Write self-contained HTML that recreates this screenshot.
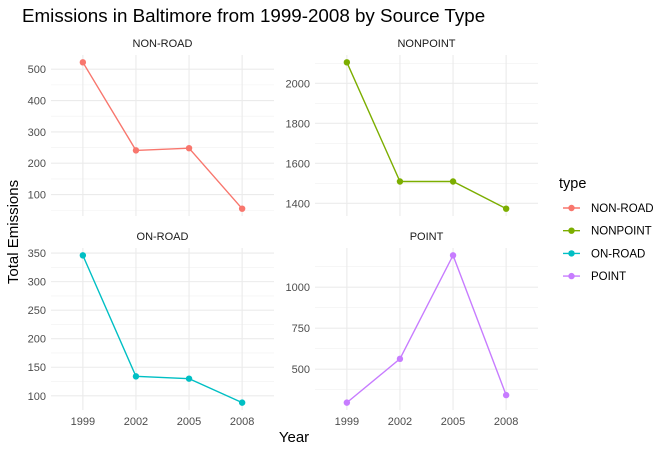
<!DOCTYPE html>
<html><head><meta charset="utf-8"><style>
body{margin:0;background:#fff;}
svg{display:block;font-family:"Liberation Sans",sans-serif;}
</style></head><body>
<svg id="chart" width="669" height="452">
<text x="22" y="22" font-size="18.8" fill="#000">Emissions in Baltimore from 1999-2008 by Source Type</text>
<text x="294" y="442" text-anchor="middle" font-size="15" fill="#000">Year</text>
<text transform="translate(18,232) rotate(-90)" text-anchor="middle" font-size="15" fill="#000">Total Emissions</text>
<g id="legend">
<text x="559" y="188" font-size="14.5" fill="#000">type</text>
</g>
</svg>
<script>
const years = ["1999","2002","2005","2008"];
const types = ["NON-ROAD","NONPOINT","ON-ROAD","POINT"];
const colors = ["#F8766D","#7CAE00","#00BFC4","#C77CFF"];
const nonRoad = [522, 241, 248, 55];
const nonPoint = [2105, 1509, 1509, 1373];
const onRoad = [346, 134, 130, 88];
const point = [296, 563, 1194, 342];
const ticksNonRoad = [100,200,300,400,500];
const ticksNonPoint = [1400,1600,1800,2000];
const ticksOnRoad = [100,150,200,250,300,350];
const ticksPoint = [500,750,1000];

const svg = document.getElementById('chart');
const NS = "http://www.w3.org/2000/svg";
function mk(tag, attrs, parent){const e=document.createElementNS(NS,tag);for(const k in attrs)e.setAttribute(k,attrs[k]);(parent||svg).appendChild(e);return e;}

const panels = [
 {vals:nonRoad, ticks:ticksNonRoad, x0:51, x1:274, y0:55, y1:216, title:"NON-ROAD", c:0, xlab:false},
 {vals:nonPoint, ticks:ticksNonPoint, x0:315, x1:538, y0:55, y1:216, title:"NONPOINT", c:1, xlab:false},
 {vals:onRoad, ticks:ticksOnRoad, x0:51, x1:274, y0:248, y1:410, title:"ON-ROAD", c:2, xlab:true},
 {vals:point, ticks:ticksPoint, x0:315, x1:538, y0:248, y1:410, title:"POINT", c:3, xlab:true},
];

panels.forEach((p)=>{
  const g = mk('g',{});
  
  
  const mn=Math.min(...p.vals), mx=Math.max(...p.vals), pad=(mx-mn)*0.05;
  const lo=mn-pad, hi=mx+pad;
  const yS = v => p.y1 - (v-lo)/(hi-lo)*(p.y1-p.y0);
  const xS = i => p.x0 + (i+0.6)/4.2*(p.x1-p.x0);
  const step = p.ticks[1]-p.ticks[0];
  for(let v=p.ticks[0]-step/2; v<=hi; v+=step){
    if(v<lo) continue;
    const l=mk('line',{x1:p.x0,x2:p.x1,y1:yS(v),y2:yS(v),stroke:'#f0f0f0','stroke-width':0.6},g);
    
    
  }
  p.ticks.forEach(t=>{
    const l=mk('line',{x1:p.x0,x2:p.x1,y1:yS(t),y2:yS(t),stroke:'#ebebeb','stroke-width':1.1},g);
    
    
    const tx=mk('text',{x:p.x0-5,y:yS(t)+4,'text-anchor':'end','font-size':11,fill:'#4d4d4d'},g);
    tx.textContent=t;
    
    
  });
  years.forEach((yr,i)=>{
    const l=mk('line',{x1:xS(i),x2:xS(i),y1:p.y0,y2:p.y1,stroke:'#ebebeb','stroke-width':1.1},g);
    
    
    if(p.xlab){
      const tx=mk('text',{x:xS(i),y:425,'text-anchor':'middle','font-size':11,fill:'#4d4d4d'},g);
      tx.textContent=yr;
      
      
    }
  });
  const st=mk('text',{x:(p.x0+p.x1)/2,y:p.y0-8,'text-anchor':'middle','font-size':11,fill:'#1a1a1a'},g);
  st.textContent=p.title;
  
  
  const pts=p.vals.map((v,i)=>xS(i)+','+yS(v)).join(' ');
  const pl=mk('polyline',{points:pts,fill:'none',stroke:colors[p.c],'stroke-width':1.4},g);
  
  
  p.vals.forEach((v,i)=>{
    const c=mk('circle',{cx:xS(i),cy:yS(v),r:3.2,fill:colors[p.c]},g);
    
    
  });
});

const lg=document.getElementById('legend');
types.forEach((t,i)=>{
  const y=208+i*22.7;
  const e=mk('g',{},lg);
  
  
  mk('line',{x1:563,x2:580,y1:y,y2:y,stroke:colors[i],'stroke-width':1.4},e);
  mk('circle',{cx:571.5,cy:y,r:3.2,fill:colors[i]},e);
  const tx=mk('text',{x:591,y:y+4,'font-size':11.5,fill:'#000'},e);
  tx.textContent=t;
});
</script>
</body></html>
